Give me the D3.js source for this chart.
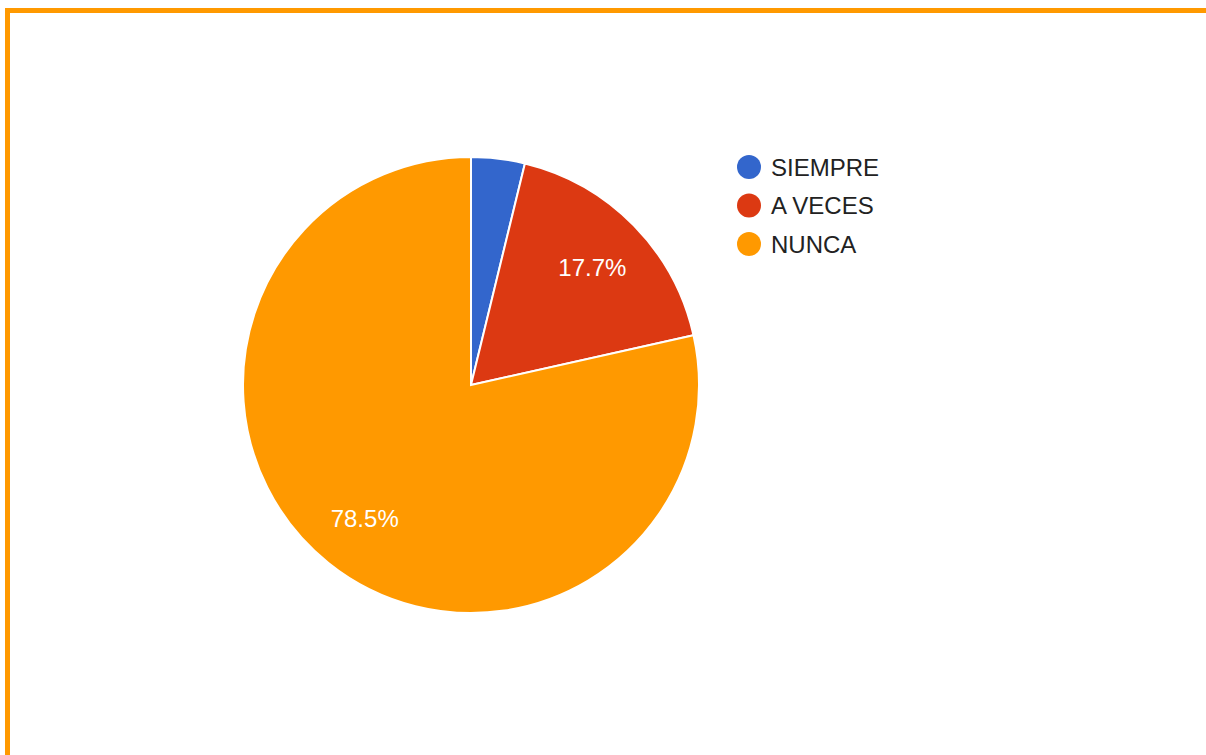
<!DOCTYPE html>
<html>
<head>
<meta charset="utf-8">
<script src="https://cdnjs.cloudflare.com/ajax/libs/d3/7.8.5/d3.min.js"></script>
<style>
  body { margin: 0; background: #fff; }
  svg { display: block; }
</style>
</head>
<body>
<div id="piechart"></div>
<script>
// data
let categories = ['SIEMPRE', 'A VECES', 'NUNCA'];
let values = [3.8, 17.7, 78.5];
let colors = ['#3366cc', '#dc3912', '#ff9900'];

let width = 1206;
let height = 755;
let cx = 471, cy = 385;
let radius = 228;

let svg = d3.select('#piechart')
  .append('svg')
  .attr('width', width)
  .attr('height', height);

// orange frame
svg.append('rect')
  .attr('x', 7.5)
  .attr('y', 10.5)
  .attr('width', width + 10)
  .attr('height', height + 10)
  .attr('fill', 'none')
  .attr('stroke', '#ff9900')
  .attr('stroke-width', 5);

let data = categories.map((c, i) => ({ category: c, count: values[i] }));

let color = d3.scaleOrdinal()
  .domain(categories)
  .range(colors);

// pie generator
let pie = d3.pie()
  .sort(null)
  .value(d => d.count);

let arc = d3.arc()
  .outerRadius(radius)
  .innerRadius(0);

let labelArc = d3.arc()
  .outerRadius(170 * 2)
  .innerRadius(0);

let g = svg.append('g')
  .attr('transform', 'translate(' + cx + ',' + cy + ')');

let slices = g.selectAll('.arc')
  .data(pie(data))
  .enter()
  .append('g')
  .attr('class', 'arc');

slices.append('path')
  .attr('d', arc)
  .style('fill', d => color(d.data.category))
  .style('stroke', '#fff')
  .style('stroke-width', 2);

// percent labels (small slice gets none)
slices.filter(d => d.data.count > 10)
  .append('text')
  .attr('transform', d => 'translate(' + labelArc.centroid(d) + ')')
  .attr('dy', '.4em')
  .attr('text-anchor', 'middle')
  .attr('font-family', '"Liberation Sans", Arial, sans-serif')
  .attr('font-size', '24px')
  .attr('fill', '#fff')
  .text(d => d.data.count.toFixed(1) + '%');

// legend
let legend = svg.append('g')
  .attr('transform', 'translate(749,167)');

let item = legend.selectAll('.item')
  .data(categories)
  .enter()
  .append('g')
  .attr('class', 'item')
  .attr('transform', (d, i) => 'translate(0,' + i * 38.5 + ')');

item.append('circle')
  .attr('r', 12)
  .attr('fill', d => color(d));

item.append('text')
  .attr('x', 22)
  .attr('dy', '.36em')
  .attr('font-family', '"Liberation Sans", Arial, sans-serif')
  .attr('font-size', '24px')
  .attr('fill', '#222')
  .text(d => d);
</script>
</body>
</html>
